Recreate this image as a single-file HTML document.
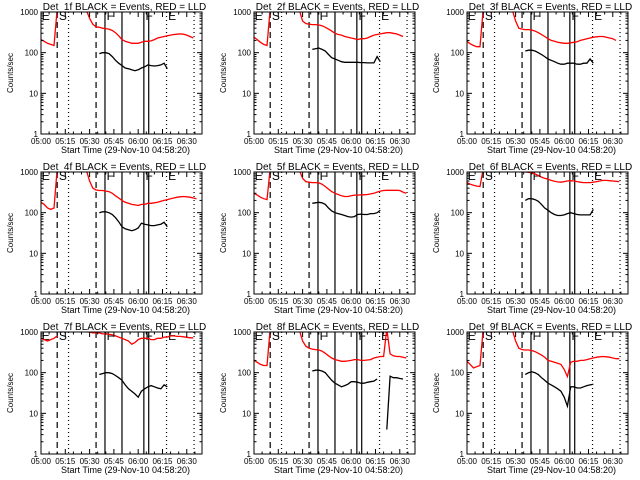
<!DOCTYPE html>
<html><head><meta charset="utf-8"><style>
html,body{margin:0;padding:0;background:#fff;}
svg{display:block;font-family:"Liberation Sans",sans-serif;}
</style></head><body>
<svg id="chart" width="640" height="480" viewBox="0 0 640 480"></svg>
<script>
const timeGrid = Array.from({length:50},(_, i)=>i*2); // minutes after 05:00
const panelNames = ["Det_1f","Det_2f","Det_3f","Det_4f","Det_5f","Det_6f","Det_7f","Det_8f","Det_9f"];
const N8 = [null,null,null,null,null,null,null,null];
const N18 = [].concat(N8,N8,[null,null]);
const N10 = [].concat(N8,[null,null]);
const red1 = [210,190,170,160,150,1200].concat(N8,[1100,700,500,430,420,400,390,380,350,310,260,210,190,180,170,170,170,180,190,190,195,210,230,240,250,260,270,280,285,290,285,270,250,230,null,null]);
const red2 = [240,210,180,160,150,1200].concat(N8,[1100,600,520,500,490,490,480,460,420,380,340,300,280,270,250,240,230,220,210,220,220,230,250,270,280,290,300,310,310,300,290,270,250,null,null,null]);
const red3 = [190,165,150,140,140,1200].concat(N8,[1100,600,400,380,370,370,360,340,310,280,250,220,200,190,180,175,170,170,175,180,185,200,210,220,230,240,245,250,250,240,230,220,200,null,null,null]);
const red4 = [180,160,130,120,130,1200].concat(N8,[1100,600,400,360,350,350,340,330,300,260,230,200,180,170,160,155,150,160,160,170,170,175,180,190,200,210,220,230,240,245,250,245,240,230,220,null]);
const red5 = [300,270,240,220,210,1200].concat(N8,[1100,700,580,560,550,550,540,500,440,380,330,300,280,260,250,250,260,270,270,275,275,280,290,300,320,340,350,355,355,355,355,350,320,300,null,null]);
const red6 = [550,500,470,450,440,1200].concat(N8,[null,null,null,1050,1000,980,950,900,820,750,700,660,620,590,570,560,580,600,610,600,580,560,550,550,550,560,580,600,620,620,610,600,590,580,null,null]);
const red7 = [700,650,600,650,700,800].concat(N8,[1000,1000,950,950,950,900,900,880,850,800,750,700,650,600,500,550,650,700,700,700,650,650,700,700,750,750,800,800,780,780,760,740,720,720,null,null]);
const red8 = [200,180,160,150,150,1200].concat(N8,[1100,600,450,400,380,370,360,340,300,260,230,210,200,190,190,195,200,210,210,200,200,205,210,230,240,250,250,1200,290,260,250,250,240,230,null,null]);
const red9 = [190,160,130,140,150,1200].concat(N8,[1100,600,400,370,360,360,350,330,300,270,240,200,190,180,170,160,120,80,180,190,190,200,200,210,220,230,240,245,250,245,240,230,220,220,null,null]);
const blk1 = N18.concat([95,100,100,95,80,65,55,48,42,40,38,36,38,42,45,50,48,47,48,50,55,40],N10);
const blk2 = N18.concat([120,125,130,120,110,90,75,70,65,60,58,58,58,58,58,57,57,56,56,56,80,60],N10);
const blk3 = N18.concat([110,115,115,110,100,90,80,70,65,60,55,52,52,55,55,55,52,52,55,55,70,55],N10);
const blk4 = N18.concat([100,105,105,100,90,75,60,45,40,38,36,38,42,55,52,50,48,48,50,52,58,45],N10);
const blk5 = N18.concat([170,175,180,175,160,130,110,100,95,90,85,80,78,80,90,92,90,90,95,95,100,115],N10);
const blk6 = N18.concat([200,220,220,210,190,160,130,115,100,90,85,85,88,95,100,95,90,88,88,88,88,120],N10);
const blk7 = N18.concat([90,95,100,100,95,85,75,65,50,40,35,30,25,35,40,45,48,45,42,40,50,45],N10);
const blk8 = N18.concat([110,115,115,110,100,80,65,55,50,45,48,52,60,60,58,55,55,58,60,62,70,null],[null,4,82,75,75,72,70,null,null,null]);
const blk9 = N18.concat([90,100,105,100,90,75,65,55,50,45,40,35,25,15,45,45,42,42,45,48,50,52],N10);
const redSeries = [red1,red2,red3,red4,red5,red6,red7,red8,red9];
const blackSeries = [blk1,blk2,blk3,blk4,blk5,blk6,blk7,blk8,blk9];
const xTickMinutes = [0,15,30,45,60,75,90];
const xTickLabels = ["05:00","05:15","05:30","05:45","06:00","06:15","06:30"];
const yTickValues = [1,10,100,1000];
const yTickLabels = ["1","10","100","1000"];
const vLines = [{t:10,s:"dash"},{t:17,s:"dot"},{t:34,s:"dash"},{t:39.5,s:"solid"},{t:50,s:"solid"},{t:63.5,s:"solid"},{t:66.5,s:"solid"},{t:77.5,s:"dot"},{t:94.5,s:"dot"}];
const markerLetters = ["E","S","F","F","E"];
const markerTimes = [0.5,11,40.5,64.5,78.5];

const NS="http://www.w3.org/2000/svg";
const svg=document.getElementById('chart');
const colLeft=[41,254,467], rowTop=[12,172,332], W=161, H=122, XMAX=99.4;
function mk(tag,attrs,parent){const e=document.createElementNS(NS,tag);for(const k in attrs)e.setAttribute(k,attrs[k]);parent.appendChild(e);return e;}

for(let p=0;p<9;p++){
  const L=colLeft[p%3], T=rowTop[Math.floor(p/3)];
  const xs=t=>L+t/XMAX*W;
  const ys=v=>T+H-(Math.log10(Math.max(v,1))/3)*H;
  const g=mk('g',{},svg);
  
  
  const clipId='clip'+p;
  const cp=mk('clipPath',{id:clipId},g);
  mk('rect',{x:L,y:T,width:W,height:H},cp);
  const title=mk('text',{x:L+W/2+3,y:T-2,'font-size':10,'text-anchor':'middle',fill:'#000'},g);
  title.textContent=panelNames[p]+" BLACK = Events, RED = LLD";
  
  
  vLines.forEach(v=>{
    const ln=mk('line',{x1:xs(v.t),x2:xs(v.t),y1:T,y2:T+H,stroke:'#000','stroke-width':1.2},g);
    if(v.s==='dash')ln.setAttribute('stroke-dasharray','6,4');
    if(v.s==='dot')ln.setAttribute('stroke-dasharray','1,3');
    
    
  });
  markerLetters.forEach((m,i)=>{
    const tx=mk('text',{x:xs(markerTimes[i]),y:T+8,'font-size':12,fill:'#000'},g);
    tx.textContent=m;
    
    
  });
  [[redSeries[p],'#ff0000','red-lld-series'],[blackSeries[p],'#000','black-events-series']].forEach(([arr,col,nm])=>{
    let d='',pen=false;
    arr.forEach((v,i)=>{
      if(v===null){pen=false;return;}
      d+=(pen?'L':'M')+xs(timeGrid[i]).toFixed(1)+','+ys(v).toFixed(1);pen=true;
    });
    const path=mk('path',{d:d,fill:'none',stroke:col,'stroke-width':1.3,'clip-path':'url(#'+clipId+')'},g);
    
    
  });
  const box=mk('rect',{x:L,y:T,width:W,height:H,fill:'none',stroke:'#000','stroke-width':1},g);
  
  
  yTickValues.forEach((v,i)=>{
    const y=ys(v);
    mk('line',{x1:L,x2:L+5,y1:y,y2:y,stroke:'#000'},g);
    mk('line',{x1:L+W,x2:L+W-5,y1:y,y2:y,stroke:'#000'},g);
    const tx=mk('text',{x:L-3,y:y+3,'font-size':8,'text-anchor':'end',fill:'#000'},g);
    tx.textContent=yTickLabels[i];
    
    
    if(i<3)for(let k=2;k<10;k++){const yy=ys(v*k);
      mk('line',{x1:L,x2:L+2.5,y1:yy,y2:yy,stroke:'#000'},g);
      mk('line',{x1:L+W,x2:L+W-2.5,y1:yy,y2:yy,stroke:'#000'},g);}
  });
  xTickMinutes.forEach((m,i)=>{
    const x=xs(m);
    mk('line',{x1:x,x2:x,y1:T+H,y2:T+H-5,stroke:'#000'},g);
    mk('line',{x1:x,x2:x,y1:T,y2:T+5,stroke:'#000'},g);
    const tx=mk('text',{x:x,y:T+H+10,'font-size':8,'text-anchor':'middle',fill:'#000'},g);
    tx.textContent=xTickLabels[i];
    
    
  });
  for(let m=5;m<XMAX;m+=5){if(m%15===0)continue;const x=xs(m);
    mk('line',{x1:x,x2:x,y1:T+H,y2:T+H-2.5,stroke:'#000'},g);
    mk('line',{x1:x,x2:x,y1:T,y2:T+2.5,stroke:'#000'},g);}
  const xt=mk('text',{x:L+W/2+4,y:T+H+19,'font-size':9,'text-anchor':'middle',fill:'#000'},g);
  xt.textContent="Start Time (29-Nov-10 04:58:20)";
  
  
  const yt=mk('text',{x:0,y:0,'font-size':8,'text-anchor':'middle',fill:'#000',transform:'translate('+(L-28)+','+(T+H/2)+') rotate(-90)'},g);
  yt.textContent="Counts/sec";
  
  
}
</script>
</body></html>
